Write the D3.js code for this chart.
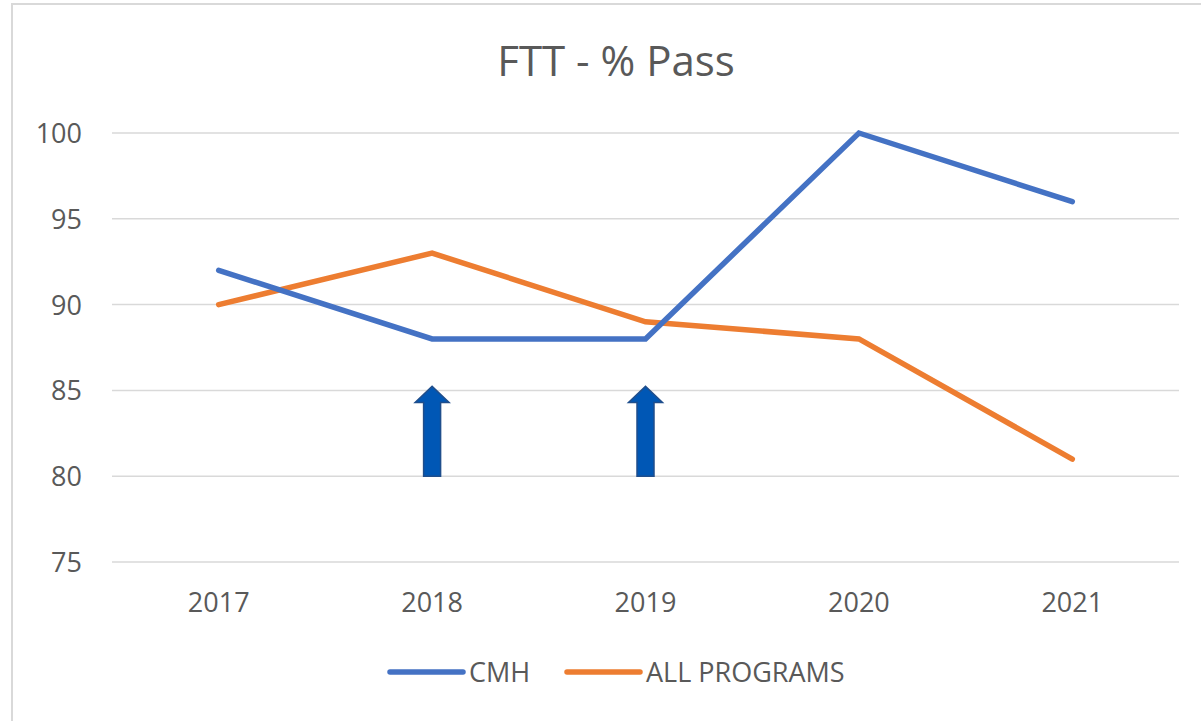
<!DOCTYPE html>
<html>
<head>
<meta charset="utf-8">
<script src="https://cdn.jsdelivr.net/npm/d3@7/dist/d3.min.js"></script>
<style>
  body { margin: 0; background: #fff; }
  text { font-family: "Open Sans", sans-serif; fill: #595959; }
</style>
</head>
<body>
<svg id="chart" width="1201" height="721"></svg>
<script>
var years = ["2017", "2018", "2019", "2020", "2021"];
var cmh = [92, 88, 88, 100, 96];
var allPrograms = [90, 93, 89, 88, 81];
var yTicks = [75, 80, 85, 90, 95, 100];
// arrows drawn on the chart (year, from value, to value)
var arrowYears = ["2018", "2019"];
var arrowFrom = [80, 80];
var arrowTo = [85, 85];

var svg = d3.select("#chart");

// chart area border
svg.append("rect")
    .attr("x", 12).attr("y", 4)
    .attr("width", 1220).attr("height", 740)
    .attr("fill", "none")
    .attr("stroke", "#d9d9d9")
    .attr("stroke-width", 2);

var x = d3.scaleBand().domain(years).range([112, 1179]);
var y = d3.scaleLinear().domain([75, 100]).range([562, 133]);

svg.append("text")
    .attr("x", 616).attr("y", 76)
    .attr("text-anchor", "middle")
    .style("font-size", "42px")
    .text("FTT - % Pass");

// gridlines
svg.append("g").selectAll("line")
    .data(yTicks)
    .enter()
    .append("line")
    .attr("x1", 112).attr("x2", 1179)
    .attr("y1", function(d) { return y(d); })
    .attr("y2", function(d) { return y(d); })
    .attr("stroke", "#d9d9d9")
    .attr("stroke-width", 1.5);

svg.append("g").selectAll("text")
    .data(yTicks)
    .enter()
    .append("text")
    .attr("x", 82)
    .attr("y", function(d) { return y(d) + 10; })
    .attr("text-anchor", "end")
    .style("font-size", "27px")
    .text(function(d) { return d; });

svg.append("g").selectAll("text")
    .data(years)
    .enter()
    .append("text")
    .attr("x", function(d) { return x(d) + x.bandwidth() / 2; })
    .attr("y", 612)
    .attr("text-anchor", "middle")
    .style("font-size", "27px")
    .text(function(d) { return d; });

var line = d3.line()
    .x(function(d, i) { return x(years[i]) + x.bandwidth() / 2; })
    .y(function(d) { return y(d); });

var series = [
    { name: "CMH", values: cmh, color: "#4472C4" },
    { name: "ALL PROGRAMS", values: allPrograms, color: "#ED7D31" }
];

// orange below blue
series.slice().reverse().forEach(function(s) {
    svg.append("path")
        .datum(s.values)
        .attr("d", line)
        .attr("fill", "none")
        .attr("stroke", s.color)
        .attr("stroke-width", 5.5)
        .attr("stroke-linecap", "round")
        .attr("stroke-linejoin", "miter");
});

// arrows
arrowYears.forEach(function(yr, i) {
    var cx = x(yr) + x.bandwidth() / 2;
    var yb = y(arrowFrom[i]);
    var yt = y(arrowTo[i]) - 4;
    var sw = 8.5, hw = 17, hh = 16;
    var p = d3.path();
    p.moveTo(cx - sw, yb);
    p.lineTo(cx - sw, yt + hh);
    p.lineTo(cx - hw, yt + hh);
    p.lineTo(cx, yt);
    p.lineTo(cx + hw, yt + hh);
    p.lineTo(cx + sw, yt + hh);
    p.lineTo(cx + sw, yb);
    p.closePath();
    svg.append("path")
        .attr("d", p.toString())
        .attr("fill", "#0057B5")
        .attr("stroke", "#1F4E8C")
        .attr("stroke-width", 1.5);
});

// legend
var legendX = [390, 567];
series.forEach(function(s, i) {
    var g = svg.append("g").attr("transform", "translate(" + legendX[i] + ",672)");
    g.append("line")
        .attr("x1", 0).attr("x2", 73)
        .attr("stroke", s.color)
        .attr("stroke-width", 5.5)
        .attr("stroke-linecap", "round");
    g.append("text")
        .attr("x", 79).attr("y", 10)
        .style("font-size", "27px")
        .text(s.name);
});
</script>
</body>
</html>
